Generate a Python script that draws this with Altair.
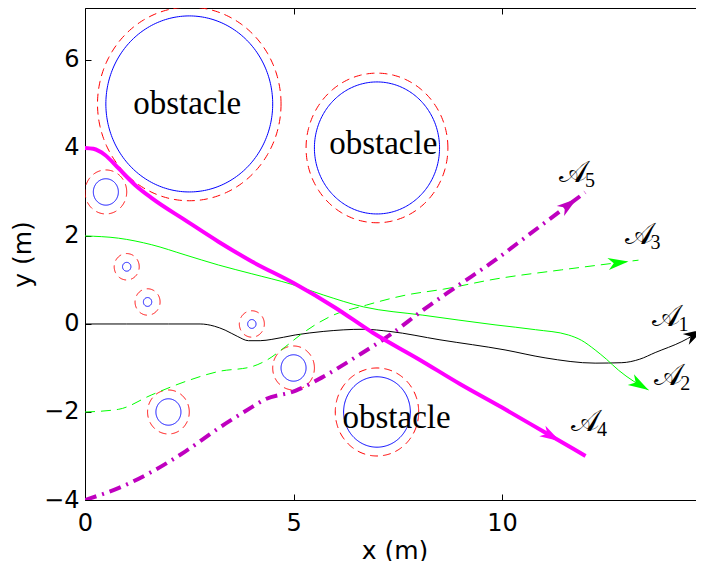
import math
import altair as alt
import numpy as np
import pandas as pd

# ---------------- data ----------------
obs_cx = [2.5, 7.0, 7.0, 0.5, 1.0, 1.5, 4.0, 5.0, 2.0]
obs_cy = [5.0, 4.0, -2.0, 3.0, 1.3, 0.5, 0.0, -1.0, -2.0]
obs_r = [2.0, 1.5, 0.8, 0.3, 0.1, 0.1, 0.1, 0.3, 0.3]
safety_margin = 0.2

obst_label_x = [2.45, 7.15, 7.47]
obst_label_y = [5.0, 4.1, -2.14]
obst_label = ["obstacle", "obstacle", "obstacle"]

a1_x = [0, 1, 2, 2.76, 3.1, 3.36, 3.65, 3.92, 4.2, 4.48, 5.04, 5.71, 6.67, 7.31, 8.51, 10.07, 11.03, 12.23, 12.87, 13.3, 13.67, 14.31, 14.83]
a1_y = [0, 0, 0, 0, -0.05, -0.14, -0.28, -0.38, -0.38, -0.35, -0.25, -0.17, -0.12, -0.17, -0.36, -0.59, -0.77, -0.89, -0.88, -0.8, -0.65, -0.4, -0.12]

a2_x = [0, 0.8, 1.6, 2.4, 3.2, 4.0, 4.96, 5.71, 6.67, 8.1, 9.83, 10.8, 11.59, 11.9, 12.23, 12.5, 12.79, 13.15, 13.51]
a2_y = [2.0, 1.95, 1.8, 1.57, 1.34, 1.14, 0.9, 0.66, 0.39, 0.2, -0.02, -0.13, -0.25, -0.37, -0.59, -0.8, -1.05, -1.3, -1.5]

a3_x = [0, 0.8, 1.6, 2.4, 3.2, 4.0, 4.36, 4.8, 5.16, 5.88, 6.75, 7.71, 8.59, 9.83, 11.43, 13.27]
a3_y = [-2.0, -1.94, -1.61, -1.31, -1.08, -0.97, -0.82, -0.52, -0.25, 0.17, 0.43, 0.66, 0.79, 1.02, 1.23, 1.45]

a4_x = [0, 0.2, 0.48, 0.8, 1.2, 1.6, 2.4, 3.2, 4.0, 5.0, 6.0, 6.9, 8.0, 9.0, 10.0, 11.0, 12.0]
a4_y = [4.0, 3.98, 3.84, 3.54, 3.16, 2.86, 2.36, 1.87, 1.42, 0.93, 0.37, -0.2, -0.8, -1.37, -1.9, -2.45, -3.0]

a5_x = [0, 0.8, 1.6, 2.4, 3.2, 4.0, 4.28, 5.04, 5.71, 6.51, 7.31, 8.11, 8.91, 9.83, 10.63, 11.43, 11.99]
a5_y = [-4.0, -3.73, -3.36, -2.9, -2.37, -1.89, -1.73, -1.52, -1.2, -0.74, -0.25, 0.32, 0.85, 1.45, 2.02, 2.59, 2.99]

series_x = [a1_x, a2_x, a3_x, a4_x, a5_x]
series_y = [a1_y, a2_y, a3_y, a4_y, a5_y]
series_sub = ["1", "2", "3", "4", "5"]
arrow_at_x = [14.83, 13.51, 13.03, 11.39, 11.79]
label_x = [13.94, 13.98, 13.27, 11.99, 11.70]
label_y = [0.07, -1.27, 1.93, -2.32, 3.34]

x_ticks = [0, 5, 10]
y_ticks = [-4, -2, 0, 2, 4, 6]

# ---------------- layout ----------------
W, H = 619, 492
XMIN, XMAX = 0.0, 14.84
YMIN, YMAX = -4.0, 7.18
sx = W / (XMAX - XMIN)
sy = H / (YMAX - YMIN)

colors = ["#000000", "#00ff00", "#00ff00", "#ff00ff", "#bf00bf"]
FONT = "DejaVu Sans"

xs = alt.Scale(domain=[XMIN, XMAX], nice=False, zero=False)
ys = alt.Scale(domain=[YMIN, YMAX], nice=False, zero=False)

# circle outlines built from centres / radii
t = np.linspace(0, 2 * np.pi, 241)
rows_b, rows_r = [], []
for i, (cx, cy, r) in enumerate(zip(obs_cx, obs_cy, obs_r)):
    for k, tt in enumerate(t):
        rows_b.append({"id": i, "k": k, "x": cx + r * np.cos(tt), "y": cy + r * np.sin(tt)})
        rr = r + safety_margin
        rows_r.append({"id": i, "k": k, "x": cx + rr * np.cos(tt), "y": cy + rr * np.sin(tt)})
df_blue = pd.DataFrame(rows_b)
df_red = pd.DataFrame(rows_r)

no_title = dict(title=None)

main_x_axis = alt.Axis(orient="bottom", values=x_ticks, ticks=False, tickSize=0, domain=True,
                       domainColor="black", domainWidth=1, labelFont=FONT, labelFontSize=24,
                       labelColor="black", labelPadding=11, labelFlush=False, grid=False,
                       title="x (m)", titleFont=FONT, titleFontSize=25, titleFontWeight="normal",
                       titleColor="black", titlePadding=3)
main_y_axis = alt.Axis(orient="left", values=y_ticks, ticks=False, tickSize=0, domain=True,
                       domainColor="black", domainWidth=1, labelFont=FONT, labelFontSize=24,
                       labelColor="black", labelPadding=6, labelFlush=False, grid=False,
                       title="y (m)", titleFont=FONT, titleFontSize=25, titleFontWeight="normal",
                       titleColor="black", titlePadding=8)
# inward-pointing ticks (axes mirrored onto the opposite edge)
tick_x_bottom = alt.Axis(orient="top", offset=-H, values=x_ticks, labels=False, domain=False,
                         ticks=True, tickSize=6, tickColor="black", tickWidth=1, grid=False, **no_title)
tick_y_left = alt.Axis(orient="right", offset=-W, values=y_ticks, labels=False, domain=False,
                       ticks=True, tickSize=6, tickColor="black", tickWidth=1, grid=False, **no_title)
top_axis = alt.Axis(orient="bottom", offset=-H, values=x_ticks, labels=False, domain=True,
                    domainColor="black", domainWidth=1, ticks=True, tickSize=6, tickColor="black",
                    tickWidth=1, grid=False, **no_title)

blue = alt.Chart(df_blue).mark_line(color="#0000ff", strokeWidth=1, clip=True).encode(
    x=alt.X("x:Q", scale=xs, axis=main_x_axis),
    y=alt.Y("y:Q", scale=ys, axis=main_y_axis),
    detail="id:N", order="k:Q")

red = alt.Chart(df_red).mark_line(color="#ff0000", strokeWidth=1, strokeDash=[8, 5], clip=True).encode(
    x=alt.X("x:Q", scale=xs, axis=tick_x_bottom),
    y=alt.Y("y:Q", scale=ys, axis=tick_y_left),
    detail="id:N", order="k:Q")

styles = [
    dict(strokeWidth=1),
    dict(strokeWidth=1),
    dict(strokeWidth=1, strokeDash=[10, 6]),
    dict(strokeWidth=4),
    dict(strokeWidth=4, strokeDash=[12, 6, 2, 6]),
]

traj_layers = []
for j in range(5):
    df = pd.DataFrame({"x": series_x[j], "y": series_y[j]})
    if j == 0:
        xe = alt.X("x:Q", scale=xs, axis=top_axis)
    else:
        xe = alt.X("x:Q", scale=xs, axis=None)
    traj_layers.append(
        alt.Chart(df).mark_line(color=colors[j], interpolate="monotone", clip=True, **styles[j]).encode(
            x=xe, y=alt.Y("y:Q", scale=ys, axis=None)))

# arrow heads, oriented along the local direction of each path
arr_rows = []
for j in range(5):
    ax = arrow_at_x[j]
    ay = float(np.interp(ax, series_x[j], series_y[j]))
    bx = ax - 0.3
    by = float(np.interp(bx, series_x[j], series_y[j]))
    ang = math.degrees(math.atan2((ax - bx) * sx, (ay - by) * sy)) % 360
    arr_rows.append({"x": ax, "y": ay, "angle": ang, "col": colors[j]})
df_arr = pd.DataFrame(arr_rows)
ARROW = "M0,0 L0.6,2 L0,1.45 L-0.6,2 Z"
arrows = alt.Chart(df_arr).mark_point(shape=ARROW, filled=True, size=420, opacity=1, clip=True).encode(
    x=alt.X("x:Q", scale=xs, axis=None), y=alt.Y("y:Q", scale=ys, axis=None),
    angle=alt.Angle("angle:Q", scale=None), color=alt.Color("col:N", scale=None))

df_obl = pd.DataFrame({"x": obst_label_x, "y": obst_label_y, "t": obst_label})
obl = alt.Chart(df_obl).mark_text(font="Liberation Serif", fontSize=33, color="black",
                                  align="center", baseline="middle").encode(
    x=alt.X("x:Q", scale=xs, axis=None), y=alt.Y("y:Q", scale=ys, axis=None), text="t:N")

df_lab = pd.DataFrame({"x": label_x, "y": label_y, "sub": series_sub, "A": ["𝒜"] * 5})
lab_main = alt.Chart(df_lab).mark_text(font="DejaVu Serif", fontSize=30, color="black",
                                       align="center", baseline="middle", dy=-4).encode(
    x=alt.X("x:Q", scale=xs, axis=None), y=alt.Y("y:Q", scale=ys, axis=None), text="A:N")
lab_sub = alt.Chart(df_lab).mark_text(font="Liberation Serif", fontSize=20, color="black",
                                      align="center", baseline="middle", dx=17, dy=4).encode(
    x=alt.X("x:Q", scale=xs, axis=None), y=alt.Y("y:Q", scale=ys, axis=None), text="sub:N")

chart = alt.layer(
    blue, red, obl, traj_layers[0], traj_layers[1], traj_layers[2], traj_layers[4], traj_layers[3],
    arrows, lab_main, lab_sub
).resolve_axis(x="independent", y="independent").properties(
    width=W, height=H,
    autosize=alt.AutoSizeParams(type="none"),
    padding={"left": 77, "top": 0, "right": -8, "bottom": 61},
).configure_view(stroke="transparent", strokeWidth=0)

chart.save("out.html", embed_options={"renderer": "svg", "actions": False})
